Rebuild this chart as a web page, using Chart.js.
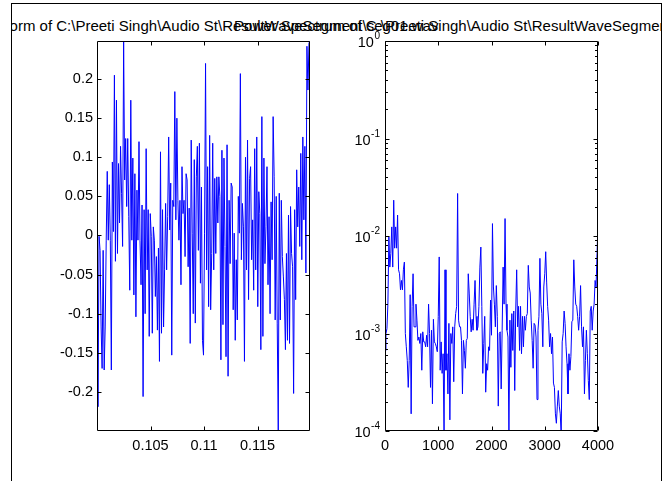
<!DOCTYPE html>
<html>
<head>
<meta charset="utf-8">
<script src="https://cdn.jsdelivr.net/npm/chart.js@4.4.0/dist/chart.umd.min.js"></script>
<style>
html, body { margin: 0; padding: 0; background: #fff; }
body { width: 671px; height: 481px; position: relative; overflow: hidden; font-family: "Liberation Sans", Arial, sans-serif; }
#frame { position: absolute; left: 12px; top: 4px; width: 649px; height: 477px; overflow: hidden; }
.edge { position: absolute; background: #000; z-index: 5; }
.title { position: absolute; top: 14px; white-space: nowrap; font-size: 15px; line-height: 15px; color: #000; }
canvas { position: absolute; top: 0; }
</style>
</head>
<body>
<div id="frame">
  <span class="title" id="t1"></span>
  <span class="title" id="t2"></span>
</div>
<div class="edge" style="left:11px; top:3px; width:651px; height:1px"></div>
<div class="edge" style="left:11px; top:3px; width:1px; height:478px"></div>
<div class="edge" style="left:661px; top:3px; width:1px; height:478px"></div>
<canvas id="wave" width="340" height="481" style="left:0"></canvas>
<canvas id="spec" width="331" height="481" style="left:340px"></canvas>
<script>
var FONT = '"Liberation Sans", Arial, sans-serif';
var TICK_PX = 14.5;

// titles
var waveTitle = 'Waveform of C:\\Preeti Singh\\Audio St\\ResultWaveSegment\\seg01.wav';
var specTitle = 'Power Spectrum of C:\\Preeti Singh\\Audio St\\ResultWaveSegment\\seg01.wav';

// waveform: time range of samples (s) and sample values
var waveT0 = 0.1, waveT1 = 0.1199;
var waveXTicks = [0.105, 0.11, 0.115];
var waveYTicks = [-0.2, -0.15, -0.1, -0.05, 0, 0.05, 0.1, 0.15, 0.2];
var wave = [
  0.037, -0.219, -0.001, -0.019, -0.117, -0.17, -0.019, -0.172, -0.117, -0.006,
  0.082, -0.006, 0.065, -0.006, -0.172, 0.094, 0.005, 0.205, -0.033, 0.173,
  -0.023, 0.092, 0.016, 0.114, 0.054, -0.014, 0.248, 0.071, 0.124, 0.037,
  0.124, 0.024, -0.07, 0.173, -0.006, 0.099, -0.076, 0.079, -0.104, 0.058,
  -0.006, 0.12, -0.006, -0.063, 0.039, -0.206, 0.033, -0.1, 0.111, -0.044,
  0.033, -0.129, 0.028, -0.001, -0.125, 0.011, -0.006, -0.078, -0.027, -0.121,
  -0.016, -0.161, 0.107, -0.125, 0.033, -0.117, -0.044, 0.041, -0.044, 0.024,
  0.126, 0.007, 0.067, -0.153, 0.045, 0.037, 0.184, 0.02, 0.15, 0.045,
  -0.006, 0.045, -0.063, 0.088, 0.028, 0.045, -0.027, 0.079, 0.071, -0.04,
  0.035, -0.138, 0.122, 0.003, -0.1, 0.097, -0.112, 0.075, 0.114, -0.019,
  0.118,
  -0.061, 0.062, -0.134, -0.153, 0.003, 0.22, -0.044, 0.088, -0.091, 0.128,
  -0.095, -0.023, 0.118, -0.044, 0.073, -0.023, 0.075, 0.016, 0.075, 0.05,
  -0.159, 0.109, -0.114, 0.099, -0.014, -0.155, 0.116, -0.18, 0.045, -0.036,
  0.067, 0.062, -0.095, 0.003, -0.134, -0.031, -0.108, 0.05, 0.003, 0.207,
  -0.031, 0.041, 0.011, -0.161, 0.1, -0.044, 0.122, -0.082, 0.073, 0.088,
  -0.031, 0.02, -0.07, 0.111, -0.044, 0.126, -0.091, 0.056, 0.028, -0.146,
  0.152, -0.129, 0.099, -0.036, 0.011, 0.088, -0.063, 0.024, -0.1, 0.043,
  -0.031, 0.152, 0.075, -0.108, 0.05, -0.112, -0.249, 0.054, -0.108, 0.045,
  -0.027, -0.053, -0.082, -0.146, -0.023, -0.134, 0.026, -0.138, 0.037, -0.023,
  -0.04, -0.202, 0.033, -0.082, 0.084, 0.011, 0.062, -0.014, 0.105, -0.031,
  0.126, 0.02, 0.114, -0.048, 0.242, 0.186, 0.246, 0.249
];

// spectrum: frequency range (Hz) and magnitudes
var specF0 = 0, specF1 = 4000;
var specXTicks = [0, 1000, 2000, 3000, 4000];
var specDecades = [-4, -3, -2, -1, 0];
var spec = [
  0.00067, 0.001, 0.00112, 0.002, 0.0098, 0.0048, 0.0066, 0.0124, 0.0048, 0.0233,
  0.0075, 0.0124, 0.0075, 0.0164, 0.0045, 0.0041, 0.0028, 0.0035, 0.0028, 0.0045,
  0.0054, 0.001, 0.00073, 0.00053, 0.00028, 0.00053, 0.0025, 0.00015, 0.0019, 0.0041,
  0.00117, 0.00117, 0.002, 0.00137, 0.00085, 0.00092, 0.00079, 0.001, 0.00042, 0.00104,
  0.00082, 0.00082, 0.00073, 0.00096, 0.00073, 0.002, 0.001, 0.00028, 0.00108, 0.00019,
  0.0014, 0.00082, 0.00079, 0.00073, 0.00065, 0.0015, 0.0061, 0.00042, 0.00082, 0.00039,
  0.00062, 0.00009, 0.0045, 0.00042, 0.00062, 0.00024, 0.00127, 0.00013, 0.001, 0.00079,
  0.00117, 0.00032, 0.00117, 0.0016, 0.0019, 0.0273, 0.00137, 0.00117, 0.00117, 0.00085,
  0.00024, 0.00085, 0.00067, 0.00044, 0.00085, 0.00089, 0.0041, 0.0026, 0.0015, 0.00104,
  0.0014, 0.00108, 0.002, 0.0035, 0.0015, 0.00108, 0.00117, 0.0019, 0.0048, 0.0077,
  0.0019, 0.00039, 0.00079, 0.0015, 0.00025, 0.00049, 0.00042, 0.00073, 0.00067, 0.0022,
  0.00096, 0.0134, 0.003, 0.002, 0.00117,
  0.0031, 0.0015, 0.00018, 0.001, 0.00104, 0.00027, 0.00108, 0.0048, 0.002, 0.0151,
  0.002, 0.00108, 0.00092, 0.00009, 0.00137, 0.00045, 0.0016, 0.00067, 0.0017, 0.00026,
  0.0017, 0.0045, 0.00117, 0.0019, 0.00067, 0.0019, 0.00062, 0.0015, 0.00073, 0.0015,
  0.00108, 0.0015, 0.0016, 0.005, 0.003, 0.0026, 0.00137, 0.00085, 0.00044, 0.00127,
  0.00122, 0.00092, 0.00021, 0.00108, 0.0015, 0.0059, 0.002, 0.0016, 0.00073, 0.003,
  0.0041, 0.0069, 0.0033, 0.0019, 0.00137, 0.00073, 0.001, 0.00062, 0.00092, 0.00031,
  0.00028, 0.00015, 0.00012, 0.00018, 0.00026, 0.00018, 0.00015, 0.00009, 0.00082, 0.001,
  0.0017, 0.00127, 0.00073, 0.00049, 0.00024, 0.00062, 0.00042, 0.00058, 0.00132, 0.00137,
  0.0057, 0.003, 0.002, 0.0019, 0.0015, 0.00108, 0.0015, 0.0031, 0.00117, 0.00073,
  0.00117, 0.00024, 0.00053, 0.00108, 0.00062, 0.00033, 0.00021, 0.0017, 0.0019, 0.00108,
  0.0017, 0.002, 0.0035, 0.003, 0.0066, 0.014
];

// MATLAB-like box with inward ticks on all four sides
var matlabBox = {
  id: 'matlabBox',
  afterDraw: function (chart, args, opts) {
    var ctx = chart.ctx, a = chart.chartArea;
    var xs = chart.scales.x, ys = chart.scales.y;
    var L = Math.round(a.left) + 0.5, R = Math.round(a.right) - 0.5;
    var T = Math.round(a.top) + 0.5, B = Math.round(a.bottom) - 0.5;
    var len = 4, minorLen = 2.5;
    ctx.save();
    ctx.strokeStyle = '#000';
    ctx.lineWidth = 1;
    ctx.beginPath();
    ctx.rect(L, T, R - L, B - T);
    xs.ticks.forEach(function (t) {
      var p = Math.round(xs.getPixelForValue(t.value)) + 0.5;
      ctx.moveTo(p, B); ctx.lineTo(p, B - len);
      ctx.moveTo(p, T); ctx.lineTo(p, T + len);
    });
    ys.ticks.forEach(function (t) {
      var p = Math.round(ys.getPixelForValue(t.value)) + 0.5;
      ctx.moveTo(L, p); ctx.lineTo(L + len, p);
      ctx.moveTo(R, p); ctx.lineTo(R - len, p);
    });
    if (opts.logMinor) {
      specDecades.forEach(function (d) {
        for (var m = 2; m <= 9; m++) {
          var v = m * Math.pow(10, d);
          if (v > ys.max) continue;
          var p = Math.round(ys.getPixelForValue(v)) + 0.5;
          ctx.moveTo(L, p); ctx.lineTo(L + minorLen, p);
          ctx.moveTo(R, p); ctx.lineTo(R - minorLen, p);
        }
      });
    }
    ctx.stroke();

    // 10^k labels for the log axis
    if (opts.logMinor) {
      ctx.fillStyle = '#000';
      ctx.textBaseline = 'alphabetic';
      specDecades.forEach(function (d) {
        var p = ys.getPixelForValue(Math.pow(10, d));
        var exp = String(d);
        ctx.font = '10px ' + FONT;
        var ew = ctx.measureText(exp).width;
        var xr = a.left - 5;
        ctx.textAlign = 'left';
        ctx.fillText(exp, xr - ew, p - 2);
        ctx.font = TICK_PX + 'px ' + FONT;
        ctx.textAlign = 'right';
        ctx.fillText('10', xr - ew - 0.5, p + 6);
      });
    }
    ctx.restore();
  }
};

function fixTicks(list) {
  return function (scale) {
    scale.ticks = list.map(function (v) { return { value: v }; });
  };
}

function baseOptions(padRight) {
  return {
    responsive: false,
    animation: false,
    layout: { padding: { top: 41, right: padRight, left: 0, bottom: 0 } },
    plugins: { legend: { display: false }, tooltip: { enabled: false } },
    scales: {}
  };
}

var tickFont = { size: TICK_PX, family: FONT };

var wavePts = wave.map(function (v, i) {
  return { x: waveT0 + i * (waveT1 - waveT0) / (wave.length - 1), y: v };
});
var waveOpts = baseOptions(30);
waveOpts.scales = {
  x: {
    type: 'linear', min: waveT0, max: waveT1,
    grid: { display: false, drawTicks: false }, border: { display: false },
    afterBuildTicks: fixTicks(waveXTicks),
    afterFit: function (s) { s.height = 50; },
    ticks: { color: '#000', padding: 6, maxRotation: 0, font: tickFont,
      callback: function (v) { return String(v); } }
  },
  y: {
    type: 'linear', min: -0.25, max: 0.2487,
    grid: { display: false, drawTicks: false }, border: { display: false },
    afterBuildTicks: fixTicks(waveYTicks),
    afterFit: function (s) { s.width = 97; },
    ticks: { color: '#000', padding: 4, font: tickFont,
      callback: function (v) { return String(v); } }
  }
};
waveOpts.plugins.matlabBox = { logMinor: false };

new Chart(document.getElementById('wave'), {
  type: 'line',
  data: { datasets: [{ data: wavePts, borderColor: '#0000ff', borderWidth: 1, pointRadius: 0, tension: 0 }] },
  options: waveOpts,
  plugins: [matlabBox]
});

var specPts = spec.map(function (v, i) {
  return { x: specF0 + i * (specF1 - specF0) / (spec.length - 1), y: v };
});
var specOpts = baseOptions(73);
specOpts.scales = {
  x: {
    type: 'linear', min: specF0, max: specF1,
    grid: { display: false, drawTicks: false }, border: { display: false },
    afterBuildTicks: fixTicks(specXTicks),
    afterFit: function (s) { s.height = 50; },
    ticks: { color: '#000', padding: 6, maxRotation: 0, font: tickFont,
      callback: function (v) { return String(v); } }
  },
  y: {
    type: 'logarithmic', min: 1e-4, max: 1,
    grid: { display: false, drawTicks: false }, border: { display: false },
    afterBuildTicks: fixTicks(specDecades.map(function (d) { return Math.pow(10, d); })),
    afterFit: function (s) { s.width = 45; },
    ticks: { display: false }
  }
};
specOpts.plugins.matlabBox = { logMinor: true };

new Chart(document.getElementById('spec'), {
  type: 'line',
  data: { datasets: [{ data: specPts, borderColor: '#0000ff', borderWidth: 1, pointRadius: 0, tension: 0 }] },
  options: specOpts,
  plugins: [matlabBox]
});

// titles centred over each axes, clipped by the figure frame
var mctx = document.createElement('canvas').getContext('2d');
mctx.font = '15px ' + FONT;
var t1 = document.getElementById('t1'), t2 = document.getElementById('t2');
t1.textContent = waveTitle;
t2.textContent = specTitle;
t1.style.left = (203 - mctx.measureText(waveTitle).width / 2 - 12) + 'px';
t2.style.left = (491 - mctx.measureText(specTitle).width / 2 - 12) + 'px';
</script>
</body>
</html>
